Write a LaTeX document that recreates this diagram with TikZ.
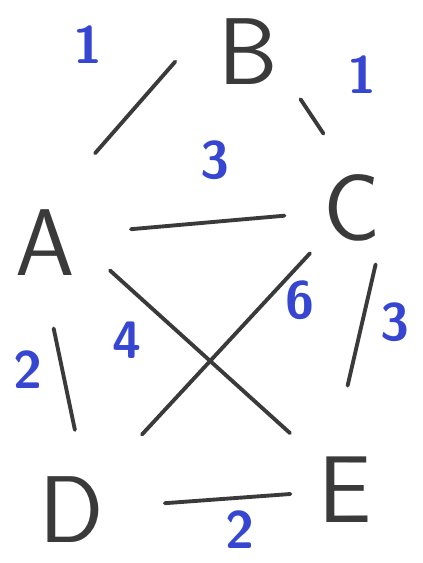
\documentclass[tikz,border=0pt]{standalone}
\usepackage{xcolor}
\usepackage{tikz}
\usetikzlibrary{calc}
\definecolor{penblue}{HTML}{3646D0}
\definecolor{pencil}{HTML}{3A3A3A}

\begin{document}
\begin{tikzpicture}[x=0.02cm, y=-0.02cm,
        vertex/.style={text=pencil, font=\fontsize{54}{54}\selectfont\sffamily, inner sep=0pt},
        weight/.style={text=penblue, font=\fontsize{30}{30}\selectfont\sffamily\bfseries, inner sep=0pt},
        edge/.style={pencil, line width=2.2pt, line cap=round}]

        \useasboundingbox (0,0) rectangle (422,563);

        % Vertices
        \node[vertex] (A) at (45,243) {A};
        \node[vertex] (B) at (248,52) {B};
        \node[vertex] (C) at (352,208) {C};
        \node[vertex] (D) at (72,510) {D};
        \node[vertex] (E) at (345,490) {E};

        % Edges (short hand-drawn strokes between the letters)
        \draw[edge] ($(A)!0.36!(B)+(-23,-21)$) -- ($(A)!0.74!(B)+(-20,-40)$);
        \draw[edge] ($(B)!0.38!(C)+(13,-12)$) -- ($(B)!0.60!(C)+(13,-12)$);
        \draw[edge] ($(A)!0.28!(C)+(0,-4)$) -- ($(A)!0.78!(C)$);
        \draw[edge] ($(A)!0.18!(E)+(11,-17)$) -- ($(A)!0.79!(E)+(8,-5)$);
        \draw[edge] ($(C)!0.15!(D)$) -- ($(C)!0.75!(D)$);
        \draw[edge] ($(C)!0.20!(E)+(25,0)$) -- ($(C)!0.63!(E)$);
        \draw[edge] ($(A)!0.32!(D)$) -- ($(A)!0.70!(D)+(11,0)$);
        \draw[edge] ($(D)!0.34!(E)$) -- ($(D)!0.80!(E)$);

        % Weights
        \node[weight] (wAB) at (88,45) {1};
        \node[weight] (wBC) at (362,75) {1};
        \node[weight] (wAC) at (215,160) {3};
        \node[weight] (wAE) at (127,340) {4};
        \node[weight] (wCD) at (300,300) {6};
        \node[weight] (wCE) at (395,322) {3};
        \node[weight] (wAD) at (28,370) {2};
        \node[weight] (wDE) at (240,530) {2};

    \end{tikzpicture}
\end{document}
